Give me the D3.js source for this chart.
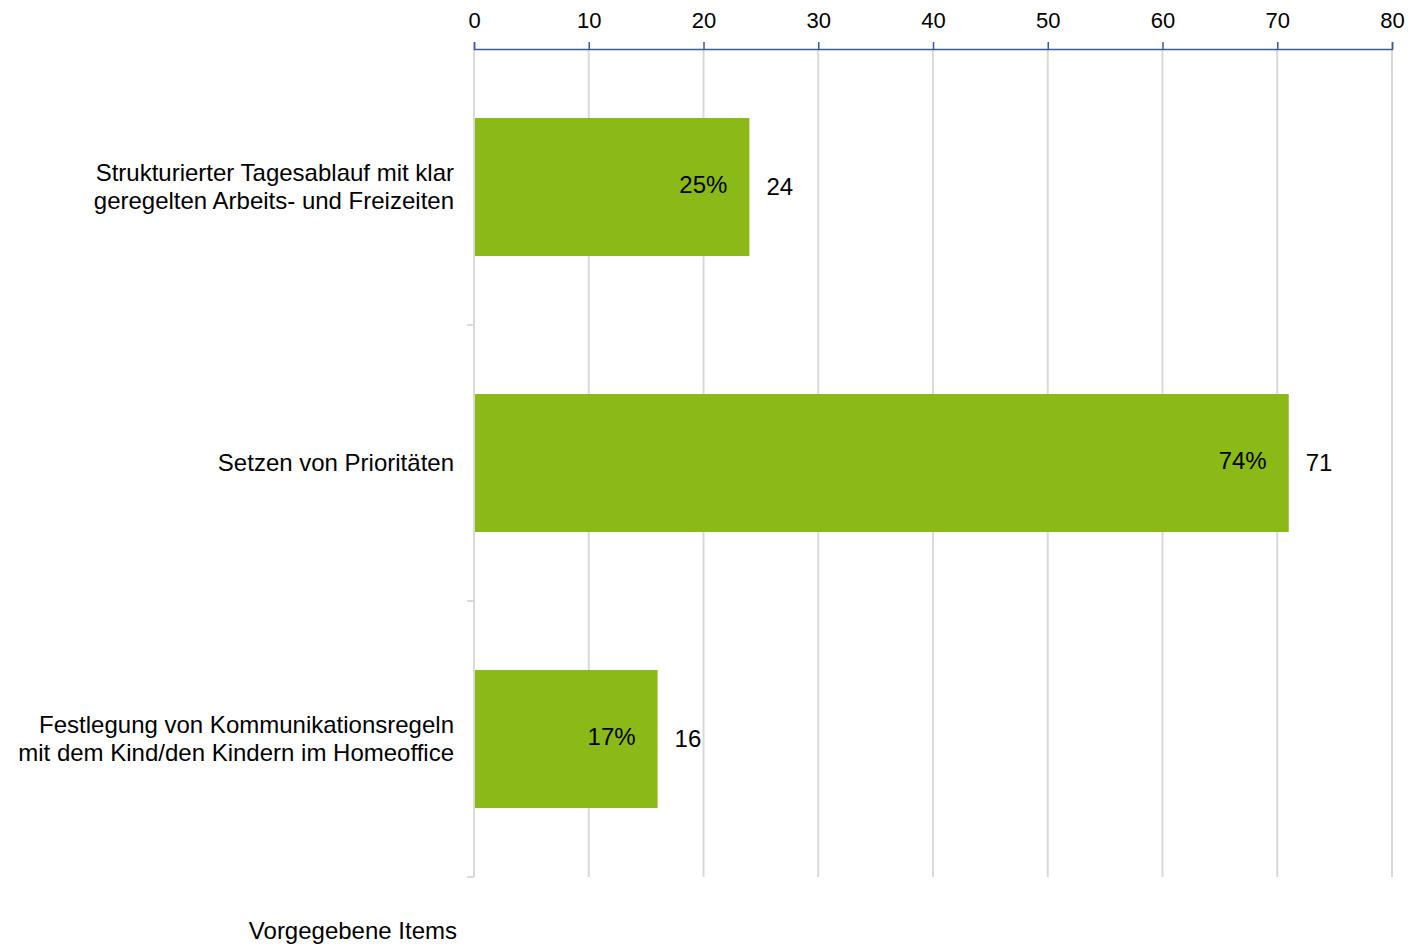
<!DOCTYPE html>
<html>
<head>
<meta charset="utf-8">
<script src="https://cdn.jsdelivr.net/npm/d3@7"></script>
<style>
  body { margin: 0; background: #fff; }
  text { font-family: "Liberation Sans", Arial, sans-serif; fill: #000; }
</style>
</head>
<body>
<div id="chart"></div>
<script>
const width = 1412;
const height = 947;
const margin = { top: 49, right: 20, bottom: 70, left: 474 };

const categories = [
  ["Strukturierter Tagesablauf mit klar", "geregelten Arbeits- und Freizeiten"],
  ["Setzen von Prioritäten"],
  ["Festlegung von Kommunikationsregeln", "mit dem Kind/den Kindern im Homeoffice"]
];
const counts = [24, 71, 16];
const percents = ["25%", "74%", "17%"];
const xTicks = [0, 10, 20, 30, 40, 50, 60, 70, 80];
const axisTitle = "Vorgegebene Items";

const data = categories.map((c, i) => ({ id: i, lines: c, count: counts[i], pct: percents[i] }));

const svg = d3.select("#chart")
  .append("svg")
  .attr("width", width)
  .attr("height", height);

const xScale = d3.scaleLinear()
  .domain([0, 80])
  .range([margin.left, 1392]);

const plotTop = margin.top;
const plotBottom = 877;

const yScale = d3.scaleBand()
  .domain(data.map(d => d.id))
  .range([plotTop, plotBottom])
  .paddingInner(0.5)
  .paddingOuter(0.25);

// gridlines
svg.append("g")
  .selectAll("line")
  .data(xTicks)
  .enter()
  .append("line")
  .attr("x1", d => xScale(d))
  .attr("x2", d => xScale(d))
  .attr("y1", plotTop)
  .attr("y2", plotBottom)
  .attr("stroke", "#d9d9d9")
  .attr("stroke-width", 2);

// left category axis with ticks at band boundaries
const boundaries = d3.range(data.length + 1).map(i => plotTop + i * (plotBottom - plotTop) / data.length);
svg.append("line")
  .attr("x1", xScale(0))
  .attr("x2", xScale(0))
  .attr("y1", plotTop)
  .attr("y2", plotBottom)
  .attr("stroke", "#d9d9d9")
  .attr("stroke-width", 2);
svg.append("g")
  .selectAll("line")
  .data(boundaries.slice(1))
  .enter()
  .append("line")
  .attr("x1", xScale(0) - 7)
  .attr("x2", xScale(0))
  .attr("y1", d => d)
  .attr("y2", d => d)
  .attr("stroke", "#d9d9d9")
  .attr("stroke-width", 2);

// bars
svg.append("g")
  .selectAll("rect")
  .data(data)
  .enter()
  .append("rect")
  .attr("x", xScale(0) + 1)
  .attr("y", d => yScale(d.id))
  .attr("width", d => xScale(d.count) - xScale(0) - 1)
  .attr("height", yScale.bandwidth())
  .attr("fill", "#8bba18");

// top axis
const topAxis = svg.append("g")
  .attr("transform", `translate(0,${plotTop})`)
  .call(d3.axisTop(xScale).tickValues(xTicks).tickSize(7).tickPadding(14));
topAxis.select(".domain").attr("stroke", "#3b5a9a").attr("stroke-width", 1.5);
topAxis.selectAll(".tick line").attr("stroke", "#3b5a9a").attr("stroke-width", 1.5);
topAxis.selectAll("text")
  .style("font-family", "'Liberation Sans', Arial, sans-serif")
  .style("font-size", "22px")
  .attr("fill", "#000");

// category labels
const labels = svg.append("g")
  .selectAll("text")
  .data(data)
  .enter()
  .append("text")
  .attr("text-anchor", "end")
  .style("font-size", "24px")
  .attr("y", d => yScale(d.id) + yScale.bandwidth() / 2 - (d.lines.length - 1) * 14);
labels.selectAll("tspan")
  .data(d => d.lines)
  .enter()
  .append("tspan")
  .attr("x", 454)
  .attr("dy", (d, i) => i === 0 ? "0.35em" : "28")
  .text(d => d);

// percentage labels inside bars
svg.append("g")
  .selectAll("text")
  .data(data)
  .enter()
  .append("text")
  .attr("x", d => xScale(d.count) - 22)
  .attr("y", d => yScale(d.id) + yScale.bandwidth() / 2 - 2)
  .attr("dy", "0.35em")
  .attr("text-anchor", "end")
  .style("font-size", "24px")
  .text(d => d.pct);

// count labels
svg.append("g")
  .selectAll("text")
  .data(data)
  .enter()
  .append("text")
  .attr("x", d => xScale(d.count) + 17)
  .attr("y", d => yScale(d.id) + yScale.bandwidth() / 2)
  .attr("dy", "0.35em")
  .style("font-size", "24px")
  .text(d => d.count);

// axis title
svg.append("text")
  .attr("x", 457)
  .attr("y", 931)
  .attr("dy", "0.35em")
  .attr("text-anchor", "end")
  .style("font-size", "24px")
  .text(axisTitle);
</script>
</body>
</html>
